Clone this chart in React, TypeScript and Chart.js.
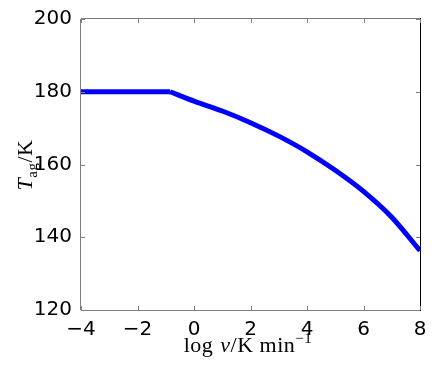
import React, { useEffect, useRef } from "react";
import { Chart, registerables } from "chart.js";

Chart.register(...registerables);

const flatX = [-4, -0.85];
const flatY = [180, 180];
const curveX = [-0.85, 0, 1, 2, 3, 4, 5, 6, 7, 8];
const curveY = [180, 177.4, 174.7, 171.5, 167.8, 163.5, 158.4, 152.6, 145.5, 136.3];
const xTicks = [-4, -2, 0, 2, 4, 6, 8];
const yTicks = [120, 140, 160, 180, 200];

const W = 436;
const H = 376;
const LEFT = 81;
const RIGHT = 420;
const TOP = 19;
const BOTTOM = 310;

const fmt = (v: number) => (v < 0 ? "\u2212" + Math.abs(v) : String(v));

type Seg = { text: string; font: string; dy: number; gap?: number };

function drawRich(ctx: CanvasRenderingContext2D, segs: Seg[], cx: number, cy: number, rot: number, spacing: number) {
  ctx.save();
  ctx.translate(cx, cy);
  ctx.rotate(rot);
  ctx.fillStyle = "#000";
  ctx.textBaseline = "alphabetic";
  ctx.textAlign = "left";
  (ctx as any).letterSpacing = spacing + "px";
  let total = 0;
  const widths = segs.map((s) => {
    ctx.font = s.font;
    const w = ctx.measureText(s.text).width + (s.gap || 0);
    total += w;
    return w;
  });
  let x = -total / 2;
  segs.forEach((s, i) => {
    ctx.font = s.font;
    ctx.fillText(s.text, x, s.dy);
    x += widths[i];
  });
  ctx.restore();
}

const framePlugin = {
  id: "frame",
  afterDraw(chart: any) {
    const ctx = chart.ctx as CanvasRenderingContext2D;
    const a = chart.chartArea;
    const xs = chart.scales.x;
    const ys = chart.scales.y;
    ctx.save();
    ctx.lineWidth = 1;
    ctx.strokeStyle = "#7f7f7f";
    ctx.beginPath();
    ctx.moveTo(a.left - 0.5, a.bottom);
    ctx.lineTo(a.left - 0.5, a.top);
    ctx.moveTo(a.left, a.top - 0.5);
    ctx.lineTo(a.right, a.top - 0.5);
    ctx.moveTo(a.left, a.bottom + 0.5);
    ctx.lineTo(a.right, a.bottom + 0.5);
    ctx.stroke();
    ctx.strokeStyle = "#000";
    ctx.beginPath();
    ctx.moveTo(a.right + 0.5, a.top - 1);
    ctx.lineTo(a.right + 0.5, a.bottom + 1);
    ctx.stroke();
    ctx.strokeStyle = "#7f7f7f";
    ctx.beginPath();
    const tl = 4;
    xTicks.forEach((v) => {
      const px = Math.round(xs.getPixelForValue(v)) + 0.5;
      ctx.moveTo(px, a.bottom);
      ctx.lineTo(px, a.bottom - tl);
      ctx.moveTo(px, a.top);
      ctx.lineTo(px, a.top + tl);
    });
    yTicks.forEach((v) => {
      const py = Math.round(ys.getPixelForValue(v)) + 0.5;
      ctx.moveTo(a.left, py);
      ctx.lineTo(a.left + tl, py);
      ctx.moveTo(a.right, py);
      ctx.lineTo(a.right - tl, py);
    });
    ctx.stroke();
    ctx.restore();

    const serif = "'Liberation Serif', serif";
    drawRich(
      ctx,
      [
        { text: "log", font: `22px ${serif}`, dy: 0, gap: 7 },
        { text: "\u03bd", font: `italic 22px ${serif}`, dy: 0 },
        { text: "/K", font: `22px ${serif}`, dy: 0, gap: 6 },
        { text: "min", font: `22px ${serif}`, dy: 0 },
        { text: "\u22121", font: `15px ${serif}`, dy: -9 },
      ],
      248,
      352,
      0,
      0.5
    );
    drawRich(
      ctx,
      [
        { text: "T", font: `italic 22px ${serif}`, dy: 0 },
        { text: "ag", font: `15px ${serif}`, dy: 5 },
        { text: "/K", font: `22px ${serif}`, dy: 0 },
      ],
      32,
      165,
      -Math.PI / 2,
      0.5
    );
  },
};

export default function App() {
  const ref = useRef<HTMLCanvasElement | null>(null);
  useEffect(() => {
    document.body.style.margin = "0";
    const canvas = ref.current;
    if (!canvas) return;
    const tickFont = { family: "'DejaVu Sans', sans-serif", size: 20 };
    const chart = new Chart(canvas, {
      type: "line",
      data: {
        datasets: [
          {
            data: flatX.map((x, i) => ({ x, y: flatY[i] })),
            borderColor: "#0000ff",
            borderWidth: 5,
            pointRadius: 0,
            fill: false,
            tension: 0,
          },
          {
            data: curveX.map((x, i) => ({ x, y: curveY[i] })),
            borderColor: "#0000ff",
            borderWidth: 5,
            pointRadius: 0,
            fill: false,
            cubicInterpolationMode: "monotone",
          },
        ],
      },
      plugins: [framePlugin],
      options: {
        animation: false,
        responsive: false,
        maintainAspectRatio: false,
        layout: { padding: { left: 0, top: TOP, right: W - RIGHT, bottom: 0 } },
        plugins: { legend: { display: false }, tooltip: { enabled: false } },
        scales: {
          x: {
            type: "linear",
            min: -4,
            max: 8,
            afterBuildTicks: (s: any) => {
              s.ticks = xTicks.map((v) => ({ value: v }));
            },
            afterFit: (s: any) => {
              s.height = H - BOTTOM;
            },
            grid: { display: false },
            border: { display: false },
            ticks: { font: tickFont, color: "#000", padding: 0, maxRotation: 0, callback: (v: any) => fmt(Number(v)) },
          },
          y: {
            type: "linear",
            min: 120,
            max: 200,
            afterBuildTicks: (s: any) => {
              s.ticks = yTicks.map((v) => ({ value: v }));
            },
            afterFit: (s: any) => {
              s.width = LEFT;
            },
            grid: { display: false },
            border: { display: false },
            ticks: { font: tickFont, color: "#000", padding: 1, callback: (v: any) => fmt(Number(v)) },
          },
        },
      },
    });
    return () => chart.destroy();
  }, []);
  return (
    <div style={{ width: W, height: H, background: "#fff" }}>
      <canvas ref={ref} width={W} height={H} style={{ width: W, height: H, display: "block" }} />
    </div>
  );
}
